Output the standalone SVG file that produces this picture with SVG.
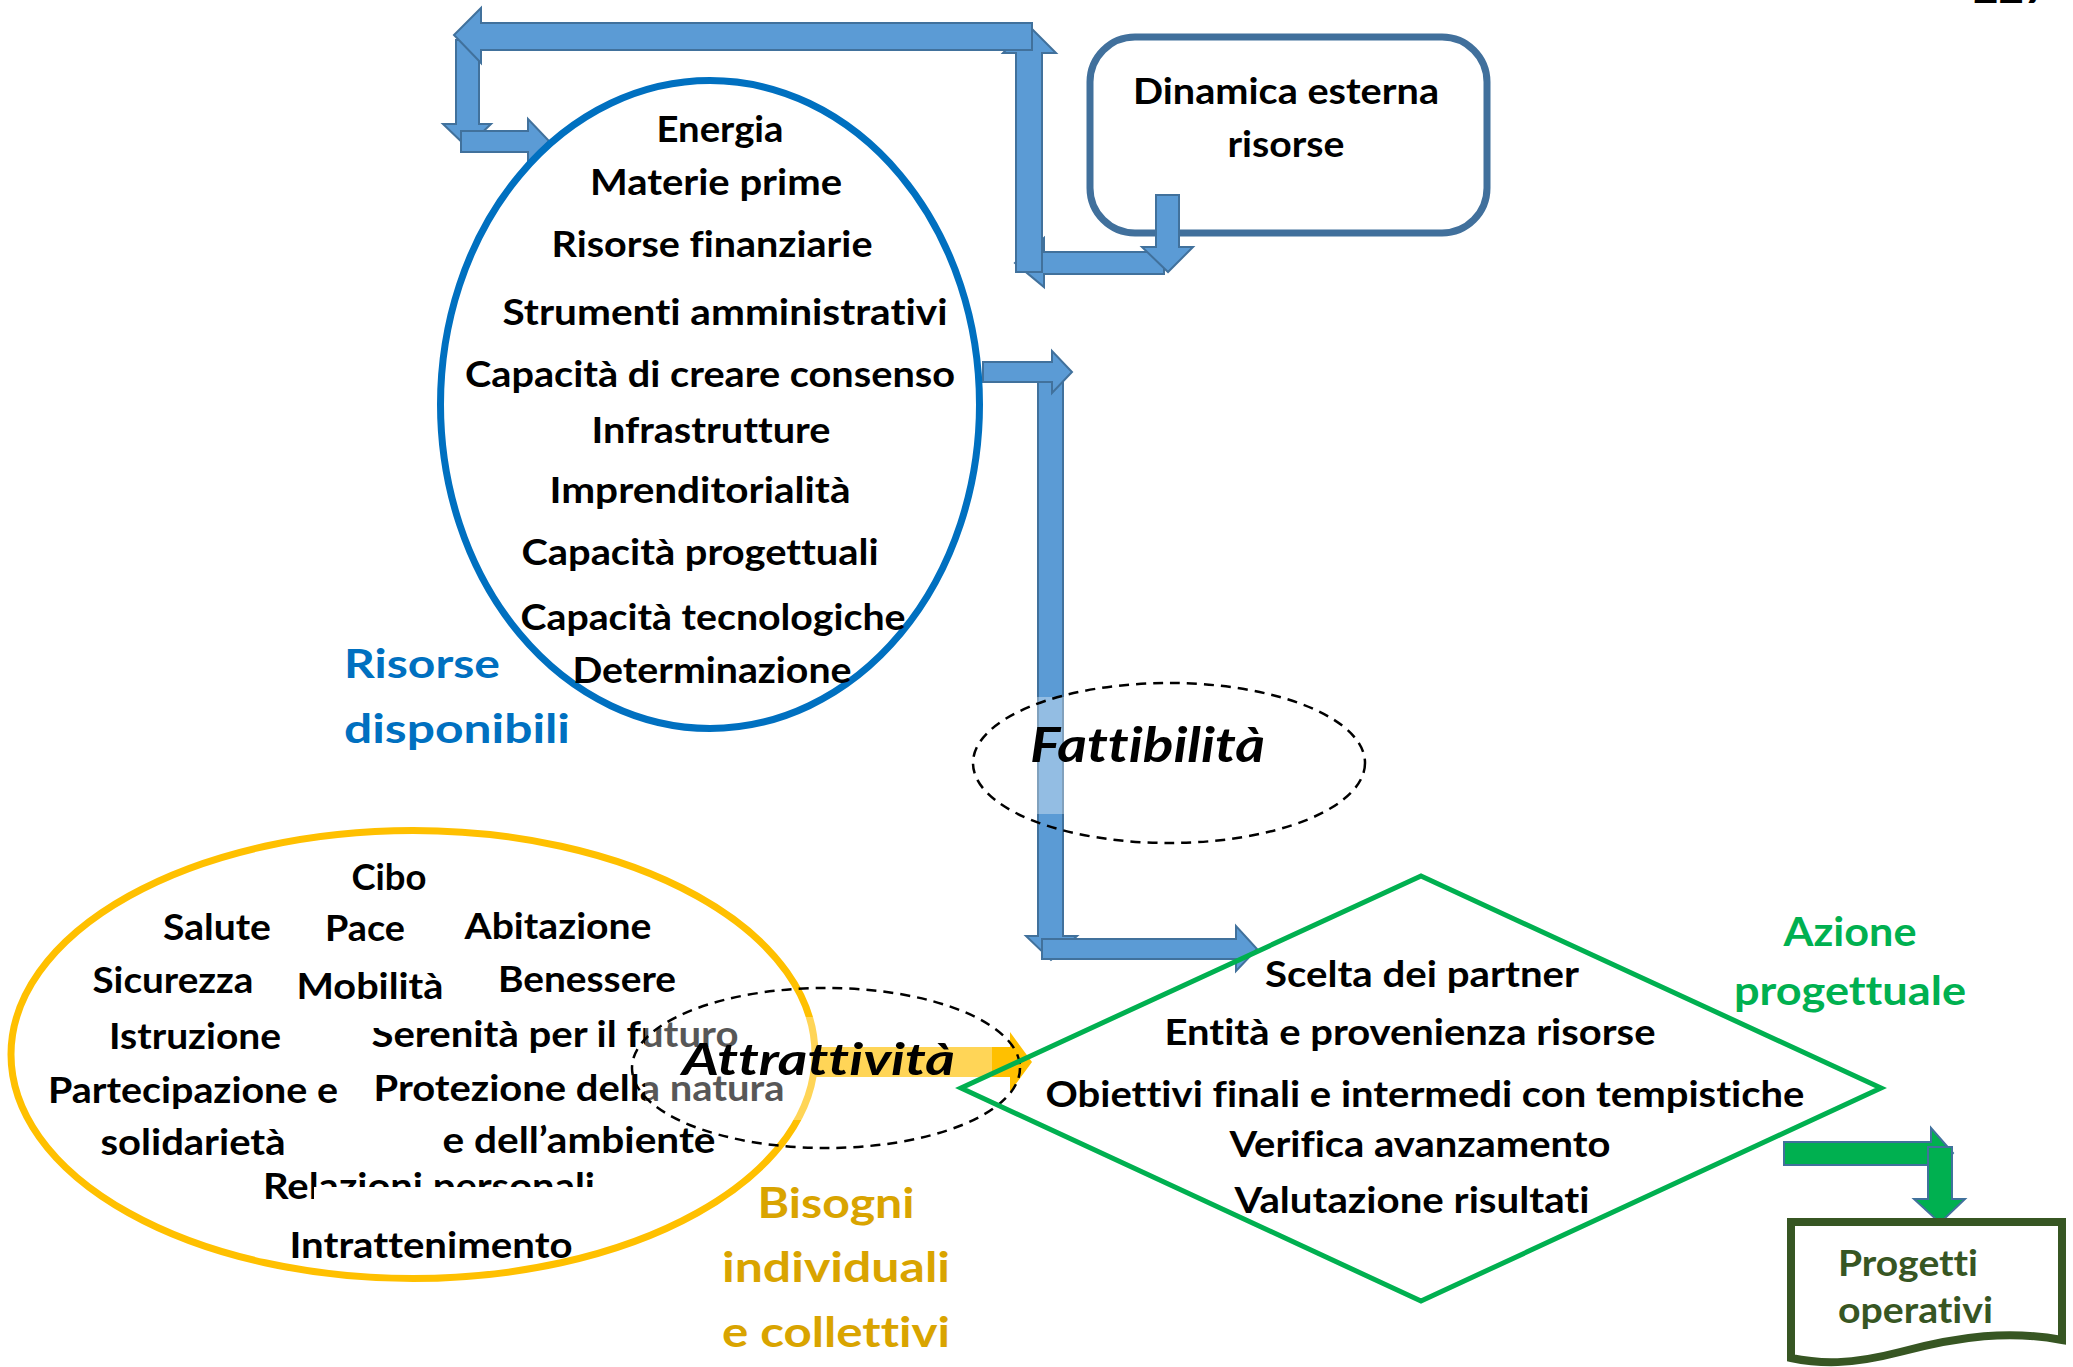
<svg xmlns="http://www.w3.org/2000/svg" width="2073" height="1367" viewBox="0 0 2073 1367">
  <style>
    .t { font-family: Lato, "Liberation Sans", sans-serif; font-weight: 700; font-size: 36px; fill: #000; text-anchor: middle; font-variant-ligatures: none; }
    .ts { text-anchor: start; }
    .it { font-style: italic; }
    .blue { fill: #0070C0; font-size: 40px; }
    .green { fill: #00B050; font-size: 40px; }
    .gold { fill: #D9A400; font-size: 42px; }
    .dkgreen { fill: #375623; }
    .ab { fill: #5B9BD5; stroke: #41719C; stroke-width: 2; stroke-linejoin: miter; }
    .ag { fill: #00B050; stroke: #41719C; stroke-width: 2; stroke-linejoin: miter; }
    .ay { fill: #FFC000; }
    .dash { fill: none; stroke: #000; stroke-width: 2.5; stroke-dasharray: 10 7; }
    .veil { fill: #fff; opacity: 0.34; }
  </style>

  <rect width="2073" height="1367" fill="#fff"/>

  <!-- page number, cut by the top edge -->
  <text class="t ts" x="1973" y="3" style="font-size:44px">227</text>

  <!-- external resources box -->
  <g id="dinamica-esterna">
    <rect x="1090" y="37" width="397" height="196" rx="45" ry="45" fill="#fff" stroke="#41709C" stroke-width="7"/>
    <text class="t" x="1286" y="104" textLength="306" lengthAdjust="spacingAndGlyphs">Dinamica esterna</text>
    <text class="t" x="1286" y="157" textLength="117" lengthAdjust="spacingAndGlyphs">risorse</text>
  </g>

  <!-- block arrows -->
  <g id="connectors">
    <!-- loop between external box and resources -->
    <path class="ab" d="M1164,252 H1044 V238 L1015,263 L1044,287 V274 H1164 Z"/>
    <path class="ab" d="M1016,272 V53 H1003 L1029,26 L1056,53 H1042 V272 Z"/>
    <path class="ab" d="M1156,195 H1179 V247 H1193 L1168,272 L1142,247 H1156 Z"/>
    <path class="ab" d="M456,40 H479 V124 H491 L467,147 L443,124 H456 Z"/>
    <path class="ab" d="M1032,23 H481 V8 L454,35 L481,63 V50 H1032 Z"/>
    <path class="ab" d="M461,131 H528 V119 L549,141 L528,163 V152 H461 Z"/>

    <!-- resources to project action -->
    <path class="ab" d="M1038,372 H1063 V936 H1077 L1051,960 L1026,936 H1038 Z"/>
    <path class="ab" d="M983,362 H1052 V351 L1072,372 L1052,393 V382 H983 Z"/>
    <path class="ab" d="M1042,939 H1236 V926 L1257,949 L1236,971 V959 H1042 Z"/>

    <!-- needs to project action -->
    <path class="ay" d="M815,1047 H1010 V1032 L1032,1062 L1010,1092 V1077 H815 Z"/>

    <!-- project action to operative projects -->
    <path class="ag" d="M1784,1142 H1931 V1128 L1953,1153 L1931,1179 V1165 H1784 Z"/>
    <path class="ag" d="M1928,1147 H1952 V1199 H1965 L1940,1223 L1914,1199 H1928 Z"/>
  </g>

  <!-- available resources -->
  <g id="risorse-disponibili">
    <ellipse cx="710" cy="404.5" rx="269.5" ry="324" fill="none" stroke="#0070C0" stroke-width="7"/>
    <text class="t" x="720" y="142" textLength="127" lengthAdjust="spacingAndGlyphs">Energia</text>
    <text class="t" x="716" y="195" textLength="252" lengthAdjust="spacingAndGlyphs">Materie prime</text>
    <text class="t" x="712" y="257" textLength="321" lengthAdjust="spacingAndGlyphs">Risorse finanziarie</text>
    <text class="t" x="725" y="325" textLength="445" lengthAdjust="spacingAndGlyphs">Strumenti amministrativi</text>
    <text class="t" x="710" y="387" textLength="490" lengthAdjust="spacingAndGlyphs">Capacità di creare consenso</text>
    <text class="t" x="711" y="443" textLength="239" lengthAdjust="spacingAndGlyphs">Infrastrutture</text>
    <text class="t" x="700" y="503" textLength="301" lengthAdjust="spacingAndGlyphs">Imprenditorialità</text>
    <text class="t" x="700" y="565" textLength="357" lengthAdjust="spacingAndGlyphs">Capacità progettuali</text>
    <text class="t" x="713" y="630" textLength="385" lengthAdjust="spacingAndGlyphs">Capacità tecnologiche</text>
    <text class="t" x="712" y="683" textLength="279" lengthAdjust="spacingAndGlyphs">Determinazione</text>
    <text class="t ts blue" x="344" y="678" textLength="156" lengthAdjust="spacingAndGlyphs">Risorse</text>
    <text class="t ts blue" x="344" y="743" textLength="226" lengthAdjust="spacingAndGlyphs">disponibili</text>
  </g>

  <!-- feasibility -->
  <g id="fattibilita">
    <rect class="veil" x="1010" y="697" width="310" height="117"/>
    <ellipse class="dash" cx="1169" cy="763" rx="196" ry="80"/>
    <text class="t ts it" x="1030" y="762" style="font-size:48px" textLength="235" lengthAdjust="spacingAndGlyphs">Fattibilità</text>
  </g>

  <!-- individual and collective needs -->
  <g id="bisogni">
    <ellipse cx="413" cy="1054.5" rx="402" ry="224" fill="none" stroke="#FFC000" stroke-width="7"/>
    <text class="t" x="389" y="890" textLength="75" lengthAdjust="spacingAndGlyphs">Cibo</text>
    <text class="t" x="217" y="940" textLength="108" lengthAdjust="spacingAndGlyphs">Salute</text>
    <text class="t" x="365" y="941" textLength="80" lengthAdjust="spacingAndGlyphs">Pace</text>
    <text class="t" x="558" y="939" textLength="187" lengthAdjust="spacingAndGlyphs">Abitazione</text>
    <text class="t" x="173" y="993" textLength="161" lengthAdjust="spacingAndGlyphs">Sicurezza</text>
    <text class="t" x="587" y="992" textLength="178" lengthAdjust="spacingAndGlyphs">Benessere</text>
    <text class="t" x="195" y="1049" textLength="172" lengthAdjust="spacingAndGlyphs">Istruzione</text>
    <text class="t" x="555" y="1047" textLength="367" lengthAdjust="spacingAndGlyphs">Serenità per il futuro</text>
    <rect x="365" y="1003" width="95" height="25" fill="#fff"/>
    <text class="t" x="370" y="999" textLength="147" lengthAdjust="spacingAndGlyphs">Mobilità</text>
    <text class="t" x="193" y="1103" textLength="290" lengthAdjust="spacingAndGlyphs">Partecipazione e</text>
    <text class="t" x="193" y="1155" textLength="185" lengthAdjust="spacingAndGlyphs">solidarietà</text>
    <text class="t" x="579" y="1101" textLength="411" lengthAdjust="spacingAndGlyphs">Protezione della natura</text>
    <text class="t" x="579" y="1153" textLength="273" lengthAdjust="spacingAndGlyphs">e dell’ambiente</text>
    <text class="t" x="429" y="1199" textLength="332" lengthAdjust="spacingAndGlyphs">Relazioni personali</text>
    <rect x="314" y="1187" width="288" height="25" fill="#fff"/>
    <text class="t" x="431" y="1258" textLength="283" lengthAdjust="spacingAndGlyphs">Intrattenimento</text>
    <text class="t gold" x="836" y="1218" textLength="157" lengthAdjust="spacingAndGlyphs">Bisogni</text>
    <text class="t gold" x="836" y="1282" textLength="228" lengthAdjust="spacingAndGlyphs">individuali</text>
    <text class="t gold" x="836" y="1347" textLength="228" lengthAdjust="spacingAndGlyphs">e collettivi</text>
  </g>

  <!-- attractiveness -->
  <g id="attrattivita">
    <rect class="veil" x="645" y="1017" width="347" height="103"/>
    <ellipse class="dash" cx="826" cy="1068" rx="194" ry="80"/>
    <text class="t ts it" x="682" y="1075" style="font-size:44px" textLength="273" lengthAdjust="spacingAndGlyphs">Attrattività</text>
  </g>

  <!-- project action -->
  <g id="azione-progettuale">
    <polygon points="1421,876 1881,1088 1421,1301 961,1088" fill="none" stroke="#00B050" stroke-width="5" stroke-linejoin="miter"/>
    <text class="t" x="1422" y="987" textLength="314" lengthAdjust="spacingAndGlyphs">Scelta dei partner</text>
    <text class="t" x="1410" y="1045" textLength="491" lengthAdjust="spacingAndGlyphs">Entità e provenienza risorse</text>
    <text class="t" x="1425" y="1107" textLength="759" lengthAdjust="spacingAndGlyphs">Obiettivi finali e intermedi con tempistiche</text>
    <text class="t" x="1420" y="1157" textLength="381" lengthAdjust="spacingAndGlyphs">Verifica avanzamento</text>
    <text class="t" x="1412" y="1213" textLength="355" lengthAdjust="spacingAndGlyphs">Valutazione risultati</text>
    <text class="t green" x="1850" y="946" textLength="133" lengthAdjust="spacingAndGlyphs">Azione</text>
    <text class="t green" x="1850" y="1005" textLength="232" lengthAdjust="spacingAndGlyphs">progettuale</text>
  </g>

  <!-- operative projects document -->
  <g id="progetti-operativi">
    <path d="M1791,1222 H2062 V1340 C2010,1330 1960,1336 1900,1352 C1850,1365 1820,1364 1791,1358 Z" fill="#fff" stroke="#375623" stroke-width="8" stroke-linejoin="miter"/>
    <text class="t ts dkgreen" x="1838" y="1276" textLength="140" lengthAdjust="spacingAndGlyphs">Progetti</text>
    <text class="t ts dkgreen" x="1838" y="1323" textLength="155" lengthAdjust="spacingAndGlyphs">operativi</text>
  </g>
</svg>
